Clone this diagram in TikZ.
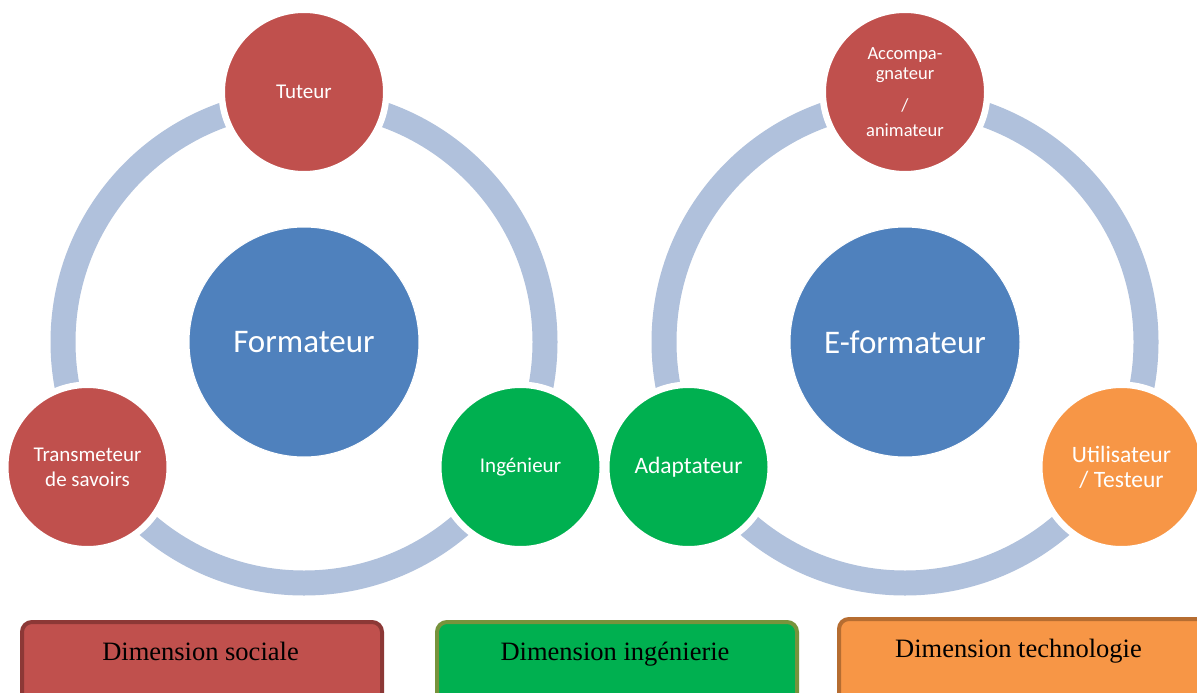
\documentclass[tikz,border=0pt]{standalone}
\usepackage{fontspec}
\setmainfont{Liberation Serif}
\newfontfamily\carl{Carlito}
\definecolor{cred}{RGB}{192,80,77}
\definecolor{cblue}{RGB}{79,129,189}
\definecolor{cgreen}{RGB}{0,176,80}
\definecolor{corange}{RGB}{247,150,70}
\definecolor{cring}{RGB}{176,193,220}
\definecolor{bred}{RGB}{140,56,54}
\definecolor{bgreen}{RGB}{119,147,60}
\definecolor{borange}{RGB}{182,109,49}
\tikzset{
  ringline/.style={draw=cring, line width=25pt},
  role/.style={circle, minimum size=160pt, inner sep=0pt, draw=white, line width=2pt,
    preaction={draw=white, line width=11pt}, text=white, align=center,
    font=\carl\fontsize{21}{25}\selectfont},
  core/.style={circle, minimum size=230pt, inner sep=0pt, fill=cblue, draw=white, line width=1pt,
    text=white, font=\carl\fontsize{33}{38}\selectfont},
  dimbox/.style={rounded corners=10pt, line width=4pt, minimum width=360pt, minimum height=90pt,
    anchor=north west, inner sep=0pt, text=black},
  dimtext/.style={anchor=base, inner sep=0pt, font=\fontsize{26.5}{30}\selectfont},
}
\begin{document}
\begin{tikzpicture}[x=1pt,y=-1pt]
\useasboundingbox (0,0) rectangle (1197,693);
\clip (0,0) rectangle (1197,693);
\fill[white] (0,0) rectangle (1197,693);
% left cycle
\coordinate (cl) at (304,342);
\draw[ringline] (cl) circle [radius=241pt];
\node[core] (form) at (cl) {Formateur};
\node[role, fill=cred] (tut) at (304,92) {Tuteur};
\node[role, fill=cred] (trans) at (87.5,467) {Transmeteur\\de savoirs};
\node[role, fill=cgreen] (ing) at (520.5,467) {Ingénieur};
% right cycle
\coordinate (cr) at (905,342);
\draw[ringline] (cr) circle [radius=241pt];
\node[core] (eform) at (cr) {E-formateur};
\node[role, fill=cred, font=\carl\fontsize{18.5}{20}\selectfont] (acc) at (905,92) {Accompa-\\gnateur\\[12pt]/\\[5pt]animateur};
\node[role, fill=cgreen, font=\carl\fontsize{23.5}{25}\selectfont] (adap) at (688.5,467) {Adaptateur};
\node[role, fill=corange, font=\carl\fontsize{23.5}{25}\selectfont] (util) at (1121.5,467) {Utilisateur\\/ Testeur};
% dimension boxes
\node[dimbox, fill=cred, draw=bred] (dsoc) at (20,620) {};
\node[dimtext] (tsoc) at (200.5,660) {Dimension sociale};
\node[dimbox, fill=cgreen, draw=bgreen] (ding) at (435,620) {};
\node[dimtext] (ting) at (615,660) {Dimension ingénierie};
\node[dimbox, fill=corange, draw=borange, minimum width=370pt] (dtec) at (837,617) {};
\node[dimtext] (ttec) at (1018.5,657) {Dimension technologie};
\end{tikzpicture}
\end{document}
